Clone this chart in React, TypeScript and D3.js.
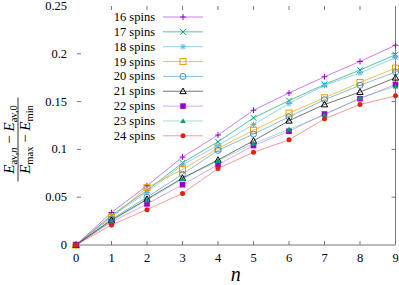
import * as React from 'react';
import * as d3 from 'd3';

const steps = [0, 1, 2, 3, 4, 5, 6, 7, 8, 9];
const spinLabels = ['16 spins', '17 spins', '18 spins', '19 spins', '20 spins', '21 spins', '22 spins', '23 spins', '24 spins'];
const s16 = [0, 0.034, 0.062, 0.092, 0.115, 0.141, 0.159, 0.176, 0.192, 0.209];
const s17 = [0, 0.031, 0.057, 0.086, 0.108, 0.133, 0.151, 0.168, 0.183, 0.199];
const s18 = [0, 0.030, 0.055, 0.084, 0.104, 0.126, 0.148, 0.167, 0.180, 0.196];
const s19 = [0, 0.029, 0.060, 0.079, 0.101, 0.120, 0.138, 0.154, 0.170, 0.185];
const s20 = [0, 0.027, 0.050, 0.074, 0.099, 0.116, 0.134, 0.152, 0.167, 0.181];
const s21 = [0, 0.026, 0.048, 0.070, 0.089, 0.109, 0.130, 0.147, 0.160, 0.175];
const s22 = [0, 0.024, 0.043, 0.063, 0.084, 0.104, 0.119, 0.137, 0.153, 0.168];
const s23 = [0, 0.025, 0.047, 0.069, 0.088, 0.106, 0.121, 0.136, 0.154, 0.166];
const s24 = [0, 0.021, 0.037, 0.054, 0.080, 0.097, 0.110, 0.132, 0.147, 0.156];
const allSeries = [s16, s17, s18, s19, s20, s21, s22, s23, s24];
const yTicks = [0, 0.05, 0.1, 0.15, 0.2, 0.25];
const yTickLabels = ['0', '0.05', '0.1', '0.15', '0.2', '0.25'];

const colors = ['#9400d3', '#009e73', '#56b4e9', '#e69f00', '#3f8fc4', '#000000', '#9400d3', '#009e73', '#e51e10'];
const lineOpacity = [0.5, 0.65, 0.6, 0.65, 0.6, 0.55, 0.35, 0.35, 0.45];
const markers = ['plus', 'cross', 'star', 'square', 'circle', 'triangle', 'fsquare', 'ftriangle', 'fcircle'];

const W = 399;
const H = 285;
const FONT = "'Liberation Serif', 'DejaVu Serif', serif";

function drawMarker(g: any, kind: string, x: number, y: number, color: string) {
  const s = 2.9;
  if (kind === 'plus' || kind === 'star') {
    g.append('path').attr('d', `M${x - s},${y}H${x + s}M${x},${y - s}V${y + s}`)
      .attr('stroke', color).attr('stroke-width', 1).attr('fill', 'none');
  }
  if (kind === 'cross' || kind === 'star') {
    const c = kind === 'star' ? s * 0.75 : s;
    g.append('path').attr('d', `M${x - c},${y - c}L${x + c},${y + c}M${x - c},${y + c}L${x + c},${y - c}`)
      .attr('stroke', color).attr('stroke-width', 1).attr('fill', 'none');
  }
  if (kind === 'square') {
    g.append('rect').attr('x', x - 3).attr('y', y - 3).attr('width', 6).attr('height', 6)
      .attr('fill', 'none').attr('stroke', color).attr('stroke-width', 1);
  }
  if (kind === 'fsquare') {
    g.append('rect').attr('x', x - 2.8).attr('y', y - 2.8).attr('width', 5.6).attr('height', 5.6).attr('fill', color);
  }
  if (kind === 'circle') {
    g.append('circle').attr('cx', x).attr('cy', y).attr('r', 3)
      .attr('fill', 'none').attr('stroke', color).attr('stroke-width', 1);
  }
  if (kind === 'fcircle') {
    g.append('circle').attr('cx', x).attr('cy', y).attr('r', 2.5).attr('fill', color);
  }
  if (kind === 'triangle' || kind === 'ftriangle') {
    const t = kind === 'triangle' ? 3.2 : 2.8;
    const p = g.append('path').attr('d', `M${x},${y - t}L${x + t},${y + t * 0.75}L${x - t},${y + t * 0.75}Z`);
    if (kind === 'triangle') p.attr('fill', 'none').attr('stroke', color).attr('stroke-width', 1);
    else p.attr('fill', color);
  }
}

export default function App() {
  const ref = React.useRef<SVGSVGElement>(null);

  React.useEffect(() => {
    document.body.style.margin = '0';
    document.body.style.overflow = 'hidden';
    const svg = d3.select(ref.current);
    svg.selectAll('*').remove();

    const left = 76;
    const right = 395.5;
    const top = 6;
    const bottom = 245;

    const x = d3.scaleLinear().domain([0, 9]).range([left, right]);
    const y = d3.scaleLinear().domain([0, 0.25]).range([bottom, top]);
    const axisColor = '#777';

    // borders: bottom and right only
    svg.append('path').attr('d', `M${left},${bottom}H${right}V${top}`)
      .attr('fill', 'none').attr('stroke', axisColor).attr('stroke-width', 1);

    // ticks
    steps.forEach((n) => {
      if (n === 0 || n === 9) return;
      svg.append('line').attr('x1', x(n)).attr('x2', x(n)).attr('y1', bottom).attr('y2', bottom - 4)
        .attr('stroke', axisColor);
      svg.append('line').attr('x1', x(n)).attr('x2', x(n)).attr('y1', top).attr('y2', top + 4)
        .attr('stroke', axisColor);
    });
    yTicks.forEach((v) => {
      if (v === 0 || v === 0.25) return;
      svg.append('line').attr('x1', left + 1).attr('x2', left + 5).attr('y1', y(v)).attr('y2', y(v))
        .attr('stroke', axisColor);
      svg.append('line').attr('x1', right).attr('x2', right - 4).attr('y1', y(v)).attr('y2', y(v))
        .attr('stroke', axisColor);
    });

    // tick labels
    svg.append('g').selectAll('text').data(yTicks).enter().append('text')
      .attr('x', 67).attr('y', (d) => y(d) + 4)
      .attr('text-anchor', 'end')
      .style('font-family', FONT).style('font-size', '12.5px')
      .text((_d, i) => yTickLabels[i]);
    svg.append('g').selectAll('text').data(steps).enter().append('text')
      .attr('x', (d) => x(d)).attr('y', 262)
      .attr('text-anchor', 'middle')
      .style('font-family', FONT).style('font-size', '12.5px')
      .text((d) => String(d));

    // x label
    svg.append('text').attr('x', (left + right) / 2).attr('y', 281)
      .attr('text-anchor', 'middle')
      .style('font-family', FONT).style('font-size', '20px').style('font-style', 'italic')
      .text('n');

    // y label as a fraction
    const yl = svg.append('g').attr('transform', `translate(18,${(top + bottom) / 2 + 14}) rotate(-90)`);
    const num = yl.append('text').attr('x', 0).attr('y', -4).attr('text-anchor', 'middle')
      .style('font-family', FONT).style('font-size', '15px');
    num.append('tspan').style('font-style', 'italic').text('E');
    num.append('tspan').attr('dy', 3).style('font-size', '10.5px').text('av,');
    num.append('tspan').style('font-size', '10.5px').style('font-style', 'italic').text('n');
    num.append('tspan').attr('dy', -3).text(' − ');
    num.append('tspan').style('font-style', 'italic').text('E');
    num.append('tspan').attr('dy', 3).style('font-size', '10.5px').text('av,0');
    yl.append('line').attr('x1', -42).attr('x2', 42).attr('y1', 0).attr('y2', 0)
      .attr('stroke', '#000').attr('stroke-width', 0.8);
    const den = yl.append('text').attr('x', 0).attr('y', 12).attr('text-anchor', 'middle')
      .style('font-family', FONT).style('font-size', '15px');
    den.append('tspan').style('font-style', 'italic').text('E');
    den.append('tspan').attr('dy', 3).style('font-size', '10.5px').text('max');
    den.append('tspan').attr('dy', -3).text(' − ');
    den.append('tspan').style('font-style', 'italic').text('E');
    den.append('tspan').attr('dy', 3).style('font-size', '10.5px').text('min');

    // series
    const line = d3.line<number>().x((_d, i) => x(steps[i])).y((d) => y(d));
    allSeries.forEach((vals, si) => {
      const g = svg.append('g');
      g.append('path').attr('d', line(vals) as string)
        .attr('fill', 'none').attr('stroke', colors[si])
        .attr('stroke-opacity', lineOpacity[si]).attr('stroke-width', 1);
      vals.forEach((v, i) => drawMarker(g, markers[si], x(steps[i]), y(v), colors[si]));
    });

    // legend
    const ly0 = 17;
    const lstep = 14.85;
    spinLabels.forEach((lab, i) => {
      const ly = ly0 + i * lstep;
      const g = svg.append('g');
      g.append('text').attr('x', 155).attr('y', ly + 4).attr('text-anchor', 'end')
        .style('font-family', FONT).style('font-size', '12.5px').text(lab);
      g.append('line').attr('x1', 163).attr('x2', 203).attr('y1', ly).attr('y2', ly)
        .attr('stroke', colors[i]).attr('stroke-opacity', lineOpacity[i]).attr('stroke-width', 1);
      drawMarker(g, markers[i], 183, ly, colors[i]);
    });
  }, []);

  return <svg ref={ref} width={W} height={H} style={{ display: 'block', fontFamily: FONT }} />;
}
